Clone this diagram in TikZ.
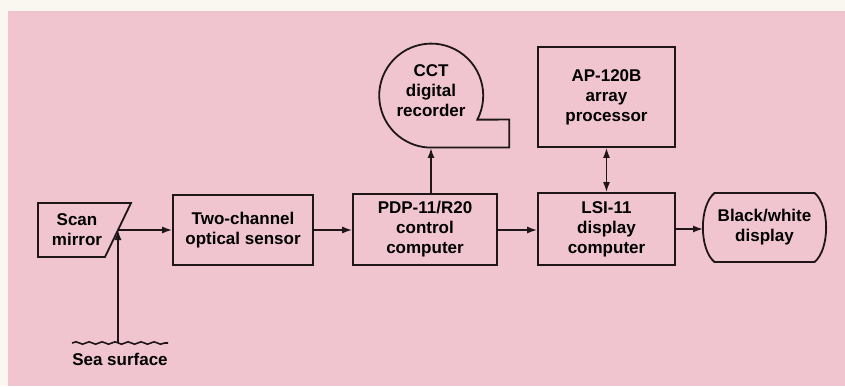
\documentclass[tikz,border=0pt]{standalone}
\usepackage{fontspec}
\setmainfont{Liberation Sans}
\usetikzlibrary{positioning,calc,arrows.meta,decorations.pathmorphing}
\definecolor{pinkbg}{RGB}{240,197,208}
\definecolor{paperwhite}{RGB}{250,247,241}
\definecolor{inkblack}{RGB}{30,22,24}

\begin{document}
\begin{tikzpicture}[x=1pt, y=1pt,
    font=\fontsize{17}{20}\selectfont\bfseries,
    box/.style={draw=inkblack, line width=1.8pt, minimum width=140pt,
      minimum height=70pt, align=center, inner sep=0pt},
    bare/.style={align=center, inner sep=0pt, outer sep=0pt},
    outline/.style={draw=inkblack, line width=1.8pt, line join=miter},
    flow/.style={-{Latex[length=10pt,width=7pt]}, line width=1.5pt, inkblack},
    both/.style={{Latex[length=10pt,width=7pt]}-{Latex[length=10pt,width=7pt]},
      line width=1.5pt, inkblack}
  ]
  % ---------------- background ----------------
  \fill[paperwhite] (0,0) rectangle (845,386);
  \fill[pinkbg] (8,0) rectangle (845,375);
  \useasboundingbox (0,0) rectangle (845,386);
  % ---------------- scan mirror ----------------
  \node[bare, minimum width=78pt, minimum height=54pt] (mirror) at (77,156) {Scan\\mirror};
  \draw[outline] (mirror.north west) -- ($(mirror.north east)+(15,0)$) coordinate (mtr)
    -- ($(mirror.south east)+(-11,0)$) coordinate (mbr) -- (mirror.south west) -- cycle;
  \coordinate (refl) at ($(mtr)!0.5!(mbr)$);
  \coordinate (surf) at ($(refl)+(0,-113)$);
  \node[bare] (sea) at (120,27) {Sea surface};
  \draw[inkblack, line width=1.6pt, decorate,
    decoration={snake, amplitude=1.2pt, segment length=13pt}] (72,43) -- (168,43);
  % ---------------- main chain ----------------
  \node[box] (optic) at (243,156) {Two-channel\\optical sensor};
  \node[box, minimum width=144pt, minimum height=71pt] (pdp) at (425,156.5) {PDP-11/R20\\control\\computer};
  \node[box, minimum width=137pt, minimum height=72pt] (lsi) at (606.5,157) {LSI-11\\display\\computer};
  \node[box, minimum width=137pt, minimum height=100pt] (ap) at (606.5,289) {AP-120B\\array\\processor};
  % ---------------- tape recorder ----------------
  \node[bare, circle, minimum size=104pt] (cct) at (431,290) {};
  \node[bare] (cctlabel) at ($(cct.center)+(0,5)$) {CCT\\digital\\recorder};
  \draw[outline] (cct.-27.5) arc[start angle=-27.5, end angle=270, radius=52]
    -- ++(78,0) -- ++(0,28) -- cycle;
  % ---------------- display ----------------
  \node[bare, minimum width=123pt, minimum height=69pt] (disp) at (764.5,158.5) {Black/white\\display};
  \draw[outline] ($(disp.center)+(-50,34.5)$) -- ($(disp.center)+(50,34.5)$)
    .. controls ($(disp.center)+(65.5,22)$) and ($(disp.center)+(65.5,-22)$) .. ($(disp.center)+(50,-34.5)$)
    -- ($(disp.center)+(-50,-34.5)$)
    .. controls ($(disp.center)+(-65.5,-22)$) and ($(disp.center)+(-65.5,22)$) .. cycle;
  % ---------------- connectors ----------------
  \draw[flow] (surf) -- (refl);
  \draw[flow] (refl) -- (optic.west);
  \draw[flow] (optic.east) -- (pdp.west |- optic.east);
  \draw[flow] (optic.east -| pdp.east) -- (optic.east -| lsi.west);
  \draw[flow] (pdp.north -| cct) -- (cct.south);
  \draw[both] (ap.south) -- (lsi.north);
  \draw[flow] (lsi.east) -- (lsi.east -| disp.west);
\end{tikzpicture}
\end{document}
